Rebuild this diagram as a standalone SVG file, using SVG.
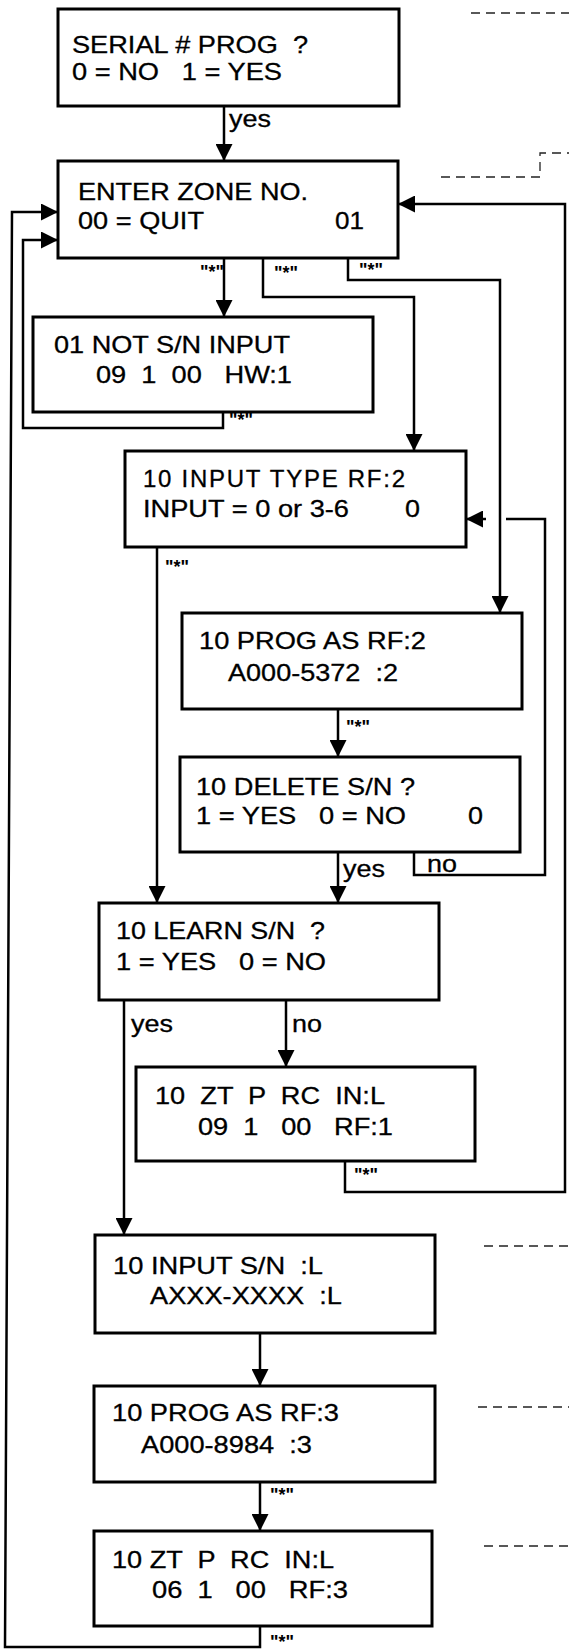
<svg xmlns="http://www.w3.org/2000/svg" width="569" height="1649" viewBox="0 0 569 1649">
<style>
.box{fill:#fff;stroke:#000;stroke-width:3}
.t{font-family:"Liberation Sans",Arial,sans-serif;font-size:24px;fill:#000;stroke:#000;stroke-width:0.3}
.lb{font-family:"Liberation Sans",Arial,sans-serif;font-size:23px;fill:#000;stroke:#000;stroke-width:0.3}
.st{font-family:"Liberation Sans",Arial,sans-serif;font-size:18px;font-weight:bold;fill:#000}
.c{fill:none;stroke:#000;stroke-width:2.5}
.ca{fill:none;stroke:#000;stroke-width:2.5;marker-end:url(#ah)}
.d{fill:none;stroke:#222;stroke-width:1.3;stroke-dasharray:9 6}
</style>
<defs>
<marker id="ah" markerUnits="userSpaceOnUse" markerWidth="18" markerHeight="17" refX="17" refY="8.5" orient="auto">
<path d="M0,0 L17,8.5 L0,17 Z" fill="#000"/>
</marker>
</defs>
<rect width="569" height="1649" fill="#fff"/>

<g id="dashed">
<path class="d" d="M471,13 H569"/>
<path class="d" d="M441,177 H540 V153 H569"/>
<path class="d" d="M484,1246 H569"/>
<path class="d" d="M478,1407 H569"/>
<path class="d" d="M484,1546 H569"/>
</g>

<g id="connectors">
<path class="ca" d="M224,106 V161"/>
<path class="ca" d="M224,258 V317"/>
<path class="ca" d="M263,258 V297 H414 V451"/>
<path class="ca" d="M348,258 V280 H500 V613"/>
<path class="ca" d="M223,412 V428 H23 V240 H58"/>
<path class="ca" d="M260,1626 V1647 H5 L12,212 H58"/>
<path class="ca" d="M345,1161 V1192 H565 V204 H398"/>
<path class="ca" d="M157,547 V903"/>
<path class="ca" d="M338,709 V757"/>
<path class="ca" d="M338,852 V903"/>
<path class="c" d="M414,852 V875 H545 V519 H506"/>
<path class="ca" d="M486,519 H466"/>
<path class="ca" d="M124,1000 V1235"/>
<path class="ca" d="M286,1000 V1067"/>
<path class="ca" d="M260,1333 V1386"/>
<path class="ca" d="M260,1482 V1531"/>
<text class="lb" x="229" y="127" textLength="42" lengthAdjust="spacingAndGlyphs">yes</text>
<text class="lb" x="343" y="877" textLength="42" lengthAdjust="spacingAndGlyphs">yes</text>
<text class="lb" x="427" y="872" textLength="30" lengthAdjust="spacingAndGlyphs">no</text>
<text class="lb" x="131" y="1032" textLength="42" lengthAdjust="spacingAndGlyphs">yes</text>
<text class="lb" x="292" y="1032" textLength="30" lengthAdjust="spacingAndGlyphs">no</text>
<text class="st" x="200" y="278" textLength="24" lengthAdjust="spacingAndGlyphs">"*"</text>
<text class="st" x="274" y="279" textLength="24" lengthAdjust="spacingAndGlyphs">"*"</text>
<text class="st" x="359" y="276" textLength="24" lengthAdjust="spacingAndGlyphs">"*"</text>
<text class="st" x="229" y="426" textLength="24" lengthAdjust="spacingAndGlyphs">"*"</text>
<text class="st" x="165" y="573" textLength="24" lengthAdjust="spacingAndGlyphs">"*"</text>
<text class="st" x="346" y="733" textLength="24" lengthAdjust="spacingAndGlyphs">"*"</text>
<text class="st" x="354" y="1181" textLength="24" lengthAdjust="spacingAndGlyphs">"*"</text>
<text class="st" x="270" y="1501" textLength="24" lengthAdjust="spacingAndGlyphs">"*"</text>
<text class="st" x="270" y="1648" textLength="24" lengthAdjust="spacingAndGlyphs">"*"</text>
</g>

<g id="n1">
<rect class="box" x="58" y="9" width="341" height="97"/>
<text class="t" x="72" y="53" textLength="236" lengthAdjust="spacingAndGlyphs" xml:space="preserve">SERIAL # PROG  ?</text>
<text class="t" x="72" y="80" textLength="210" lengthAdjust="spacingAndGlyphs" xml:space="preserve">0 = NO   1 = YES</text>
</g>
<g id="n2">
<rect class="box" x="58" y="161" width="340" height="97"/>
<text class="t" x="78" y="200" textLength="230" lengthAdjust="spacingAndGlyphs">ENTER ZONE NO.</text>
<text class="t" x="78" y="229" textLength="126" lengthAdjust="spacingAndGlyphs">00 = QUIT</text>
<text class="t" x="335" y="229" textLength="29" lengthAdjust="spacingAndGlyphs">01</text>
</g>
<g id="n3">
<rect class="box" x="33" y="317" width="340" height="95"/>
<text class="t" x="54" y="353" textLength="236" lengthAdjust="spacingAndGlyphs">01 NOT S/N INPUT</text>
<text class="t" x="96" y="383" textLength="196" lengthAdjust="spacingAndGlyphs" xml:space="preserve">09  1  00   HW:1</text>
</g>
<g id="n4">
<rect class="box" x="125" y="451" width="341" height="96"/>
<text class="t" x="143" y="487" textLength="262" lengthAdjust="spacing">10 INPUT TYPE RF:2</text>
<text class="t" x="143" y="517" textLength="206" lengthAdjust="spacingAndGlyphs">INPUT = 0 or 3-6</text>
<text class="t" x="405" y="517" textLength="15" lengthAdjust="spacingAndGlyphs">0</text>
</g>
<g id="n5">
<rect class="box" x="182" y="613" width="340" height="96"/>
<text class="t" x="199" y="649" textLength="227" lengthAdjust="spacingAndGlyphs">10 PROG AS RF:2</text>
<text class="t" x="228" y="681" textLength="170" lengthAdjust="spacingAndGlyphs" xml:space="preserve">A000-5372  :2</text>
</g>
<g id="n6">
<rect class="box" x="180" y="757" width="340" height="95"/>
<text class="t" x="196" y="795" textLength="219" lengthAdjust="spacingAndGlyphs">10 DELETE S/N ?</text>
<text class="t" x="196" y="824" textLength="210" lengthAdjust="spacingAndGlyphs" xml:space="preserve">1 = YES   0 = NO</text>
<text class="t" x="468" y="824" textLength="15" lengthAdjust="spacingAndGlyphs">0</text>
</g>
<g id="n7">
<rect class="box" x="99" y="903" width="340" height="97"/>
<text class="t" x="116" y="939" textLength="209" lengthAdjust="spacingAndGlyphs" xml:space="preserve">10 LEARN S/N  ?</text>
<text class="t" x="116" y="970" textLength="210" lengthAdjust="spacingAndGlyphs" xml:space="preserve">1 = YES   0 = NO</text>
</g>
<g id="n8">
<rect class="box" x="136" y="1067" width="339" height="94"/>
<text class="t" x="155" y="1104" textLength="230" lengthAdjust="spacingAndGlyphs" xml:space="preserve">10  ZT  P  RC  IN:L</text>
<text class="t" x="198" y="1135" textLength="195" lengthAdjust="spacingAndGlyphs" xml:space="preserve">09  1   00   RF:1</text>
</g>
<g id="n9">
<rect class="box" x="95" y="1235" width="340" height="98"/>
<text class="t" x="113" y="1274" textLength="210" lengthAdjust="spacingAndGlyphs" xml:space="preserve">10 INPUT S/N  :L</text>
<text class="t" x="150" y="1304" textLength="192" lengthAdjust="spacingAndGlyphs" xml:space="preserve">AXXX-XXXX  :L</text>
</g>
<g id="n10">
<rect class="box" x="94" y="1386" width="341" height="96"/>
<text class="t" x="112" y="1421" textLength="227" lengthAdjust="spacingAndGlyphs">10 PROG AS RF:3</text>
<text class="t" x="141" y="1453" textLength="171" lengthAdjust="spacingAndGlyphs" xml:space="preserve">A000-8984  :3</text>
</g>
<g id="n11">
<rect class="box" x="94" y="1531" width="338" height="95"/>
<text class="t" x="112" y="1568" textLength="222" lengthAdjust="spacingAndGlyphs" xml:space="preserve">10 ZT  P  RC  IN:L</text>
<text class="t" x="152" y="1598" textLength="196" lengthAdjust="spacingAndGlyphs" xml:space="preserve">06  1   00   RF:3</text>
</g>
</svg>
